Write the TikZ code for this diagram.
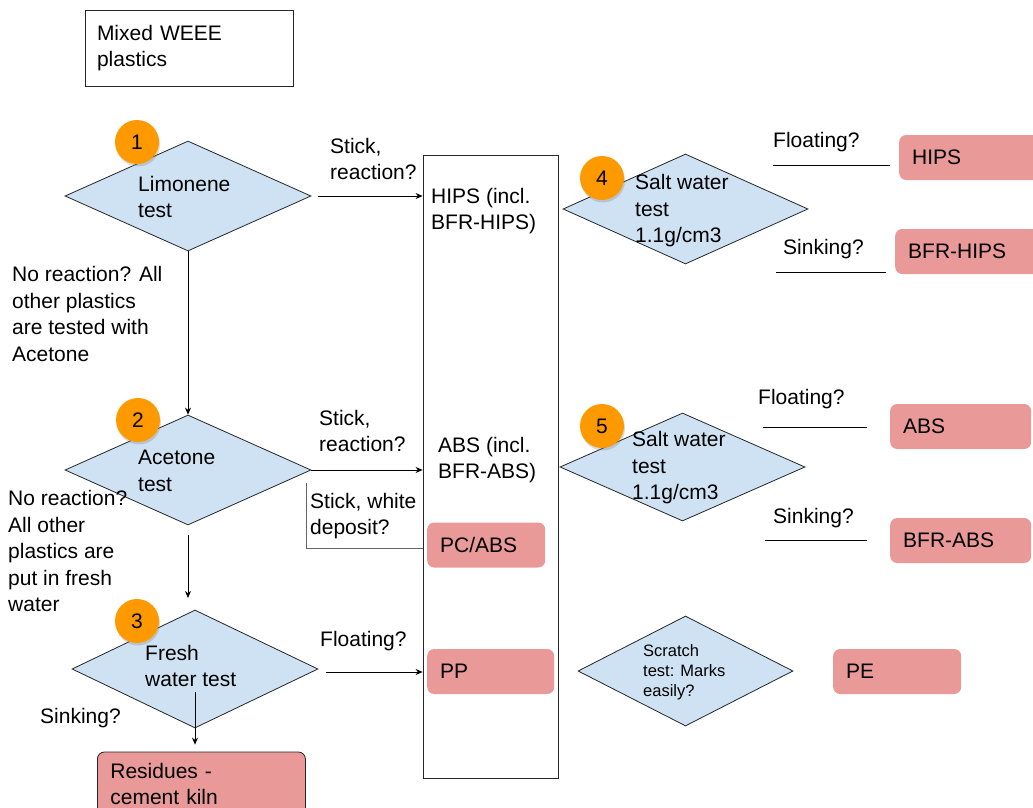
\documentclass[tikz,border=0pt]{standalone}
\usepackage{fontspec}
\setmainfont{Liberation Sans}
\usetikzlibrary{shapes.geometric,arrows.meta,shadows,calc}
\definecolor{bluec}{HTML}{CFE2F3}
\definecolor{pinkc}{HTML}{EA9999}
\definecolor{orangec}{HTML}{FF9900}
\newcommand\bigf{\fontsize{21pt}{26.5pt}\selectfont}
\newcommand\smallf{\fontsize{16.5pt}{20pt}\selectfont}
\tikzset{
  dia/.style={shape=diamond, draw=black!85, fill=bluec, inner sep=0, line width=0.8},
  num/.style={circle, fill=orangec, minimum size=44, inner sep=0, font=\bigf,
    drop shadow={opacity=0.3, shadow xshift=1pt, shadow yshift=-2.5pt}},
  txt/.style={anchor=west, align=left, inner sep=0, font=\bigf},
  pbox/.style={anchor=west, fill=pinkc, rounded corners=7, minimum height=45,
    inner xsep=13, inner ysep=0, align=left, font=\bigf},
  arr/.style={-{Stealth[length=7pt,width=6pt]}, line width=0.8},
  ln/.style={line width=0.8},
}
\begin{document}
\begin{tikzpicture}[x=1pt,y=-1pt]
\useasboundingbox (0,0) rectangle (1033,808);
% start box
\node[draw=black!85, line width=0.8, minimum width=208, minimum height=76, text width=184,
  inner xsep=12, align=left, font=\bigf] (start) at (189,48) {Mixed WEEE\\plastics};
% tall column
\node[draw=black!85, line width=0.8, minimum width=135, minimum height=623, inner sep=0] (col) at (490.5,466.5) {};
% diamonds
\node[dia, minimum width=246, minimum height=110] (d1) at (188,196) {};
\node[dia, minimum width=246, minimum height=110] (d2) at (188,470) {};
\node[dia, minimum width=246, minimum height=118] (d3) at (195,669) {};
\node[dia, minimum width=245, minimum height=110] (d4) at (685.5,209) {};
\node[dia, minimum width=245, minimum height=108] (d5) at (682.5,467) {};
\node[dia, minimum width=215, minimum height=110] (d6) at (685.5,671) {};
% diamond texts
\node[txt] (t1) at (138,197) {Limonene\\test};
\node[txt] (t2) at (138,471) {Acetone\\test};
\node[txt] (t3) at (145,666) {Fresh\\water test};
\node[txt] (t4) at (635,211) {Salt water\\test\\1.1g/cm3};
\node[txt] (t5) at (632,468) {Salt water\\test\\1.1g/cm3};
\node[txt, font=\smallf] (t6) at (643,672) {Scratch\\test: Marks\\easily?};
% number circles
\node[num] (n1) at (137,142) {1};
\node[num] (n2) at (138,420) {2};
\node[num] (n3) at (137,621) {3};
\node[num] (n4) at (602,178) {4};
\node[num] (n5) at (602,426) {5};
% column texts
\node[txt] (hipsall) at (431,211) {HIPS (incl.\\BFR-HIPS)};
\node[txt] (absall) at (438,460) {ABS (incl.\\BFR-ABS)};
% pink boxes
\node[pbox, minimum width=118, text width=92] (pcabs) at (427,545) {PC/ABS};
\node[pbox, minimum width=127, text width=101] (pp) at (427,671.5) {PP};
\node[pbox, minimum width=128, text width=102] (pe) at (833,671.5) {PE};
\node[pbox, minimum width=150, text width=124] (hips) at (899,157.5) {HIPS};
\node[pbox, minimum width=150, text width=124] (bfrhips) at (895,251.5) {BFR-HIPS};
\node[pbox, minimum width=141, text width=115] (abs) at (890,426.5) {ABS};
\node[pbox, minimum width=141, text width=115] (bfrabs) at (890,540.5) {BFR-ABS};
\node[pbox, draw=black!85, line width=0.8, minimum width=208, minimum height=64, text width=182] (res) at (97,784) {Residues -\\cement kiln};
% labels
\node[txt] (l1) at (330,159) {Stick,\\reaction?};
\node[txt] (l2) at (12,314) {No reaction? All\\other plastics\\are tested with\\Acetone};
\node[txt] (l3) at (319,431) {Stick,\\reaction?};
\node[txt] (l4) at (310,516) {Stick, white\\deposit?};
\node[txt] (l5) at (8,551) {No reaction?\\All other\\plastics are\\put in fresh\\water};
\node[txt] (l6) at (320,641) {Floating?};
\node[txt] (l7) at (40,718) {Sinking?};
\node[txt] (l8) at (773,142) {Floating?};
\node[txt] (l9) at (783,249) {Sinking?};
\node[txt] (l10) at (758,399) {Floating?};
\node[txt] (l11) at (773,518) {Sinking?};
% connectors
\draw[arr] ($(d1.east)+(7,0)$) -- (d1.east -| col.west);
\draw[arr] (d1.south) -- (d2.north);
\draw[arr] (d2.east) -- (d2.east -| col.west);
\coordinate (e1) at (306,483);
\coordinate (e2) at (306,548);
\draw[ln, black!60] (e1) -- (e2) -- (e2 -| col.west);
\coordinate (a3s) at (188,535);
\coordinate (a3e) at (188,598);
\draw[arr] (a3s) -- (a3e);
\coordinate (f1) at (326,672);
\draw[arr] (f1) -- (f1 -| col.west);
\coordinate (s1) at (195,692);
\draw[arr] (s1) -- ($(res.north -| s1)+(0,-7)$);
% right side lines
\coordinate (r1a) at (773,165); \coordinate (r1b) at (890,165);
\coordinate (r2a) at (776,272); \coordinate (r2b) at (886,272);
\coordinate (r3a) at (763,427); \coordinate (r3b) at (867,427);
\coordinate (r4a) at (765,540); \coordinate (r4b) at (867,540);
\draw[ln] (r1a) -- (r1b);
\draw[ln] (r2a) -- (r2b);
\draw[ln] (r3a) -- (r3b);
\draw[ln] (r4a) -- (r4b);
\end{tikzpicture}
\end{document}
